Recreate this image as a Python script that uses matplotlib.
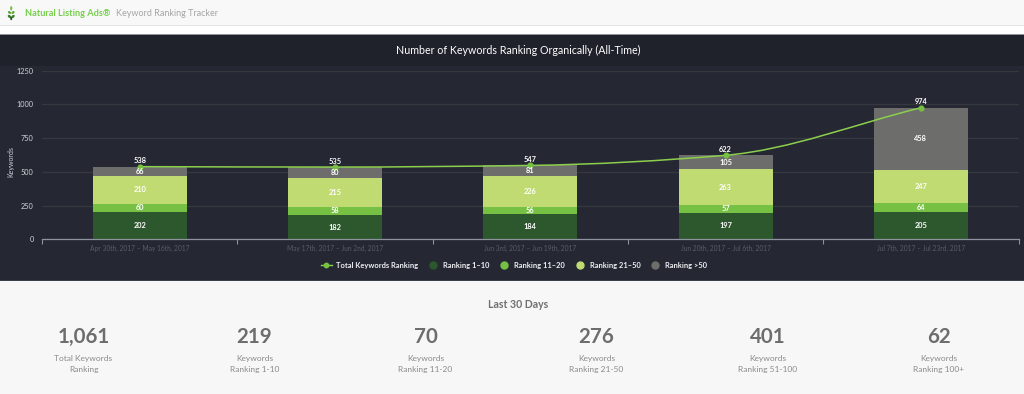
import numpy as np
import matplotlib
matplotlib.use("Agg")
import matplotlib.pyplot as plt
from matplotlib.patches import Rectangle, PathPatch, Ellipse
from matplotlib.path import Path
from matplotlib.lines import Line2D

periods = ["Apr 30th, 2017 – May 16th, 2017", "May 17th, 2017 – Jun 2nd, 2017",
           "Jun 3rd, 2017 – Jun 19th, 2017", "Jun 20th, 2017 – Jul 6th, 2017",
           "Jul 7th, 2017 – Jul 23rd, 2017"]
rank_1_10 = [202, 182, 184, 197, 205]
rank_11_20 = [60, 58, 56, 57, 64]
rank_21_50 = [210, 215, 226, 263, 247]
rank_over_50 = [66, 80, 81, 105, 458]
total_keywords = [538, 535, 547, 622, 974]
yticks = [0, 250, 500, 750, 1000, 1250]
series_names = ["Ranking 1–10", "Ranking 11–20", "Ranking 21–50", "Ranking >50"]
series_colors = ["#2d572c", "#76c043", "#c0db71", "#6d6e6b"]
stat_values = ["1,061", "219", "70", "276", "401", "62"]
stat_line1 = ["Total Keywords", "Keywords", "Keywords", "Keywords", "Keywords", "Keywords"]
stat_line2 = ["Ranking", "Ranking 1-10", "Ranking 11-20", "Ranking 21-50", "Ranking 51-100", "Ranking 100+"]
stat_x = [83.5, 254.5, 425.5, 596.5, 767.5, 938.5]

FONT = "Lato"
plt.rcParams["font.family"] = FONT
W, H = 1024, 394
fig = plt.figure(figsize=(W / 100, H / 100), dpi=100, facecolor="#f7f7f7")

bg = fig.add_axes([0, 0, 1, 1])
bg.set_xlim(0, W)
bg.set_ylim(H, 0)
bg.axis("off")
for y, h, c in [(0, 25, "#f8f8f8"), (25, 0.9, "#e4e4e4"), (25.9, 8, "#ffffff"),
                (33.5, 1, "#8f9196"), (34.5, 31, "#1f222b"), (65.5, 215, "#252833"),
                (280, 1.2, "#3a3f4c"), (281.2, 113, "#f7f7f7")]:
    bg.add_patch(Rectangle((0, y), W, h, fc=c, ec="none"))

# logo
for (lx, ly, lw, lh, ang, c) in [(9.5, 16.5, 4, 2.6, 40, "#3f7f2e"), (13, 16.5, 4, 2.6, -40, "#3f7f2e"),
                                 (9.5, 12.5, 3.6, 2.4, 40, "#5ba53a"), (13, 12.5, 3.6, 2.4, -40, "#5ba53a"),
                                 (11.2, 8.3, 2.2, 4.5, 0, "#76c043"), (11.2, 18.5, 2, 3.5, 0, "#2d572c")]:
    bg.add_patch(Ellipse((lx, ly), lw, lh, angle=ang, fc=c, ec="none"))
bg.text(25, 13.5, "Natural Listing Ads®", color="#76cf4a", fontsize=6.6, fontweight="bold", va="center")
bg.text(115.5, 13.5, "Keyword Ranking Tracker", color="#a5a5a5", fontsize=6.5, va="center")
bg.text(518, 50, "Number of Keywords Ranking Organically (All-Time)", color="#ffffff", fontsize=7.7,
        ha="center", va="center")

# chart
x0, x1, ytop, ybot = 42, 1018.5, 70.5, 239.3
ax = fig.add_axes([x0 / W, 1 - ybot / H, (x1 - x0) / W, (ybot - ytop) / H])
ax.patch.set_alpha(0)
ax.set_xlim(-0.5, 4.5)
ax.set_ylim(0, 1250)
x = np.arange(len(periods))
bottom = np.zeros(len(periods))
for vals, c, n in zip([rank_1_10, rank_11_20, rank_21_50, rank_over_50], series_colors, series_names):
    vals = np.array(vals)
    ax.bar(x, vals, width=0.481, bottom=bottom, color=c, label=n, zorder=2)
    for xi, b, v in zip(x, bottom, vals):
        ax.text(xi, b + v / 2, str(v), color="white", fontsize=5.3, fontweight="bold",
                ha="center", va="center", zorder=5)
    bottom = bottom + vals

# monotone cubic through the totals
t = np.array(total_keywords, float)
d = np.diff(t)
m = np.zeros_like(t)
m[0], m[-1] = d[0], d[-1]
for i in range(1, len(t) - 1):
    m[i] = 0 if d[i - 1] * d[i] <= 0 else 2 * d[i - 1] * d[i] / (d[i - 1] + d[i])
verts = [(x[0], t[0])]
codes = [Path.MOVETO]
for i in range(len(t) - 1):
    verts += [(x[i] + 1 / 3, t[i] + m[i] / 3), (x[i + 1] - 1 / 3, t[i + 1] - m[i + 1] / 3), (x[i + 1], t[i + 1])]
    codes += [Path.CURVE4] * 3
ax.add_patch(PathPatch(Path(verts, codes), fc="none", ec="#8ccf4d", lw=1.1, zorder=3))
ax.plot(x, t, ls="none", marker="o", ms=3.4, color="#76c043", zorder=4)
for xi, v in zip(x, t):
    ax.annotate(f"{int(v)}", (xi, v), xytext=(0, 1.8), textcoords="offset points", color="white",
                fontsize=5.3, fontweight="bold", ha="center", va="bottom", zorder=6)

ax.set_yticks(yticks)
ax.set_yticklabels([str(v) for v in yticks], color="#d0d2d6", fontsize=5.3)
ax.tick_params(axis="y", length=0, pad=6)
ax.yaxis.grid(True, color="#35383c", lw=0.9, zorder=0)
ax.set_axisbelow(True)
ax.set_xticks(x)
ax.set_xticklabels(periods, color="#595c63", fontsize=4.8)
ax.set_xticks(np.arange(-0.5, 5), minor=True)
ax.tick_params(axis="x", which="major", length=0, pad=3.8)
ax.tick_params(axis="x", which="minor", length=3.5, color="#8f93a0", width=0.8, direction="out")
for s in ["top", "left", "right"]:
    ax.spines[s].set_visible(False)
ax.spines["bottom"].set_color("#8f93a0")
ax.spines["bottom"].set_linewidth(0.9)
bg.text(11, 162, "Keywords", color="#d0d2d6", fontsize=5, rotation=90, ha="center", va="center")

handles = [Line2D([], [], color="#8ccf4d", lw=1, marker="o", ms=3.2, mfc="#76c043", mec="#76c043")]
labels = ["Total Keywords Ranking"] + series_names
handles += [Line2D([], [], ls="none", marker="o", ms=5, color=c) for c in series_colors]
leg = fig.legend(handles, labels, ncol=5, frameon=False, loc="center",
                 bbox_to_anchor=(514 / W, 1 - 265.5 / H), handlelength=1.45, handletextpad=0.55,
                 columnspacing=1.3, borderpad=0,
                 prop={"family": FONT, "size": 5.4, "weight": "bold"})
for tx in leg.get_texts():
    tx.set_color("#eef0f4")

# summary
bg.text(518, 304, "Last 30 Days", color="#707070", fontsize=7.6, fontweight="bold", ha="center", va="center")
for sx, v, a, b in zip(stat_x, stat_values, stat_line1, stat_line2):
    bg.text(sx, 337, v, color="#6d6d6d", fontsize=14.8, fontweight="bold", ha="center", va="center")
    bg.text(sx, 358.3, a, color="#8a8a8a", fontsize=6, ha="center", va="center")
    bg.text(sx, 369.8, b, color="#8a8a8a", fontsize=6, ha="center", va="center")

fig.savefig("out.png", dpi=100, facecolor=fig.get_facecolor())
